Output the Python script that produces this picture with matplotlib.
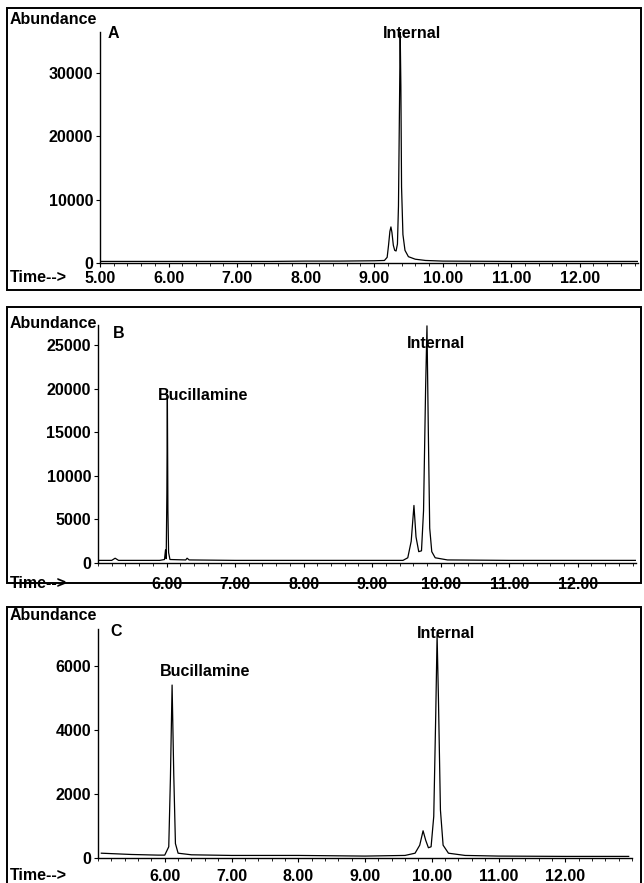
import matplotlib
matplotlib.use("Agg")
import matplotlib.pyplot as plt
from matplotlib.patches import Rectangle
from matplotlib.ticker import MultipleLocator

W, H = 644, 883

# ---- data (time in min, abundance) ----
time_a = [5.00, 5.50, 6.00, 6.50, 7.00, 7.50, 8.00, 8.50, 9.00, 9.15, 9.19, 9.21,
          9.23, 9.245, 9.26, 9.28, 9.30, 9.32, 9.34, 9.355, 9.37, 9.38, 9.39, 9.40,
          9.42, 9.45, 9.50, 9.60, 9.75, 10.00, 11.00, 12.00, 12.95]
abund_a = [250, 250, 250, 250, 250, 250, 300, 300, 350, 400, 900, 2800,
           5000, 5700, 4800, 2800, 2000, 1900, 3000, 9000, 25000, 36500, 28000, 12000,
           4500, 2000, 1000, 600, 400, 300, 250, 250, 250]

time_b = [5.00, 5.20, 5.25, 5.30, 5.90, 5.97, 5.985, 5.995, 6.005, 6.012, 6.02,
          6.03, 6.05, 6.28, 6.30, 6.33, 7.00, 8.00, 9.00, 9.45, 9.52, 9.57, 9.61,
          9.64, 9.68, 9.72, 9.75, 9.78, 9.80, 9.82, 9.84, 9.87, 9.92, 10.10, 11.00,
          12.00, 12.85]
abund_b = [300, 300, 550, 300, 300, 400, 1500, 500, 8000, 19300, 6000,
           1200, 400, 350, 550, 350, 300, 300, 300, 300, 600, 2500, 6600,
           3000, 1300, 1400, 6000, 20000, 27200, 15000, 4000, 1300, 600, 350, 300,
           300, 300]

time_c = [5.05, 5.50, 5.90, 6.00, 6.06, 6.085, 6.11, 6.135, 6.16, 6.20, 6.40,
          7.00, 8.00, 9.00, 9.60, 9.75, 9.82, 9.87, 9.91, 9.95, 9.99, 10.03,
          10.06, 10.08, 10.10, 10.13, 10.17, 10.25, 10.50, 11.00, 12.00, 12.95]
abund_c = [150, 110, 90, 90, 350, 2500, 5400, 2600, 450, 150, 100,
           80, 80, 60, 80, 150, 400, 850, 550, 320, 350, 1300,
           4500, 6950, 5000, 1500, 400, 150, 80, 60, 50, 50]

xticks_a = [5, 6, 7, 8, 9, 10, 11, 12]
xticks_bc = [6, 7, 8, 9, 10, 11, 12]
yticks_a = [0, 10000, 20000, 30000]
yticks_b = [0, 5000, 10000, 15000, 20000, 25000]
yticks_c = [0, 2000, 4000, 6000]

plt.rcParams['font.family'] = ['Liberation Sans', 'DejaVu Sans']
plt.rcParams['font.weight'] = 'bold'
FS = 11.5

fig = plt.figure(figsize=(W / 100, H / 100), dpi=100)
fig.patch.set_facecolor('white')


def box(left, top, right, bottom):
    # pixel box -> figure fraction rect
    return [left / W, 1 - bottom / H, (right - left) / W, (bottom - top) / H]


def frame(left, top, right, bottom):
    r = Rectangle((left / W, 1 - bottom / H), (right - left) / W, (bottom - top) / H,
                  transform=fig.transFigure, fill=False, lw=1.4, ec='black',
                  zorder=5, clip_on=False)
    fig.patches.append(r)


def panel(rect, t, y, xlim, ylim, xticks, yticks, xpad):
    ax = fig.add_axes(rect)
    ax.set_facecolor('none')
    ax.plot(t, y, color='black', lw=0.9)
    ax.set_xlim(*xlim)
    ax.set_ylim(*ylim)
    ax.set_xticks(xticks)
    ax.set_xticklabels(['%.2f' % v for v in xticks])
    ax.set_yticks(yticks)
    ax.xaxis.set_minor_locator(MultipleLocator(0.2))
    for s in ['top', 'right']:
        ax.spines[s].set_visible(False)
    ax.spines['left'].set_linewidth(1.0)
    ax.spines['bottom'].set_linewidth(1.0)
    ax.tick_params(axis='y', length=3, width=0.8, pad=2, labelsize=FS)
    ax.tick_params(axis='x', which='major', length=3, width=0.8, pad=xpad, labelsize=FS)
    ax.tick_params(axis='x', which='minor', length=2, width=0.6)
    for lab in ax.get_xticklabels() + ax.get_yticklabels():
        lab.set_fontweight('bold')
    return ax


# ---- panel A ----
frame(7, 8, 641, 290)
ax_a = panel(box(100, 32, 638, 263), time_a, abund_a, (5.0, 12.85), (0, 36500),
             xticks_a, yticks_a, 3)
fig.text(10 / W, 1 - 19 / H, 'Abundance', fontsize=FS, fontweight='bold', va='center')
fig.text(10 / W, 1 - 277 / H, 'Time-->', fontsize=FS, fontweight='bold', va='center')
ax_a.text(5.11, 36300, 'A', fontsize=FS, fontweight='bold', va='center')
ax_a.text(9.13, 36300, 'Internal', fontsize=FS, fontweight='bold', va='center', clip_on=False)

# ---- panel B ----
frame(7, 307, 641, 583)
ax_b = panel(box(98, 325, 636, 563), time_b, abund_b, (5.0, 12.85), (0, 27300),
             xticks_bc, yticks_b, 7)
fig.text(10 / W, 1 - 323 / H, 'Abundance', fontsize=FS, fontweight='bold', va='center')
fig.text(10 / W, 1 - 583 / H, 'Time-->', fontsize=FS, fontweight='bold', va='center')
ax_b.text(5.22, 26300, 'B', fontsize=FS, fontweight='bold', va='center')
ax_b.text(9.50, 25170, 'Internal', fontsize=FS, fontweight='bold', va='center')
ax_b.text(5.88, 19220, 'Bucillamine', fontsize=FS, fontweight='bold', va='center')

# ---- panel C ----
frame(7, 607, 641, 900)
ax_c = panel(box(98, 629, 632, 858), time_c, abund_c, (5.0, 13.0), (0, 7150),
             xticks_bc, yticks_c, 5)
fig.text(10 / W, 1 - 615 / H, 'Abundance', fontsize=FS, fontweight='bold', va='center')
fig.text(10 / W, 1 - 875 / H, 'Time-->', fontsize=FS, fontweight='bold', va='center')
ax_c.text(5.18, 7060, 'C', fontsize=FS, fontweight='bold', va='center', clip_on=False)
ax_c.text(9.78, 7000, 'Internal', fontsize=FS, fontweight='bold', va='center', clip_on=False)
ax_c.text(5.93, 5810, 'Bucillamine', fontsize=FS, fontweight='bold', va='center')

fig.savefig('out.png', dpi=100)
